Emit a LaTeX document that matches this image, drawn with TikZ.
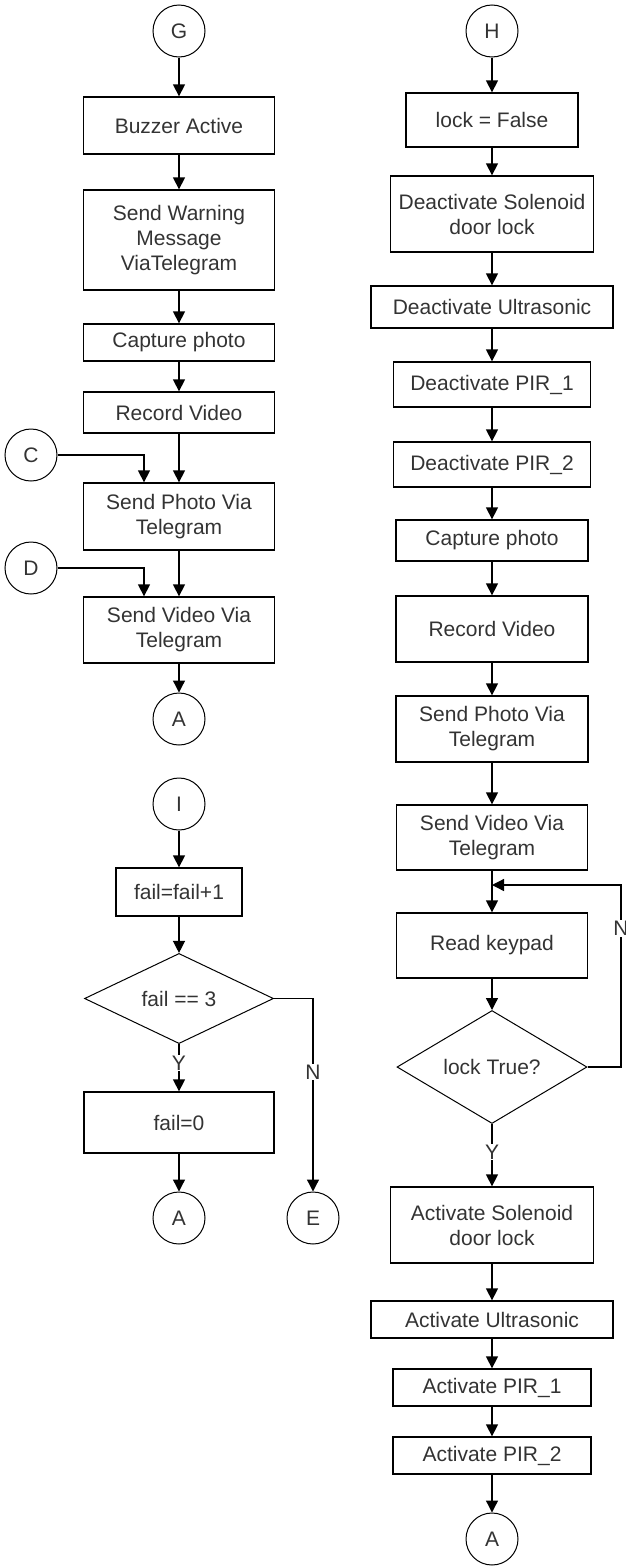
\documentclass[tikz,border=0pt]{standalone}
\usepackage{fontspec}
\setmainfont{Liberation Sans}
\usetikzlibrary{shapes.geometric,arrows.meta}
\begin{document}
\begin{tikzpicture}[x=1pt,y=-1pt]

\tikzstyle{proc}=[draw, rectangle, line width=1.3pt, inner sep=2pt, align=center, text=black!80, font=\fontsize{21}{25}\selectfont]
\tikzstyle{conn}=[draw, circle, line width=1pt, minimum size=52pt, inner sep=0pt, text=black!80, font=\fontsize{21}{25}\selectfont]
\tikzstyle{decide}=[draw, diamond, line width=1pt, inner sep=0pt, text=black!80, font=\fontsize{21}{25}\selectfont]
\tikzstyle{edge}=[-{Triangle[width=12pt,length=12pt]}, line width=1.3pt]
\tikzstyle{tag}=[fill=white, inner sep=1pt, text=black!80, font=\fontsize{21}{25}\selectfont]

\useasboundingbox (0,0) rectangle (626,1566);

\node[conn] (g) at (179,31) {G};
\node[proc, minimum width=191pt, minimum height=57pt] (buzzer) at (179,125.5) {Buzzer Active};
\node[proc, minimum width=191pt, minimum height=100pt] (warn) at (179,240) {Send Warning\\Message\\ViaTelegram};
\node[proc, minimum width=191pt, minimum height=37pt] (photo_l) at (179,342.5) {Capture photo};
\node[proc, minimum width=191pt, minimum height=41pt] (video_l) at (179,412.5) {Record Video};
\node[conn] (c) at (31,455) {C};
\node[proc, minimum width=191pt, minimum height=67pt] (send_photo_l) at (179,516.5) {Send Photo Via\\Telegram};
\node[conn] (d) at (31,568) {D};
\node[proc, minimum width=191pt, minimum height=66pt] (send_video_l) at (179,630) {Send Video Via\\Telegram};
\node[conn] (a_top) at (179,719) {A};

\node[conn] (i) at (179,804) {I};
\node[proc, minimum width=126pt, minimum height=48pt] (fail_inc) at (179,892) {fail=fail+1};
\node[decide, minimum width=189pt, minimum height=67pt] (fail_check) at (179,998.5) {fail == 3};
\node[proc, minimum width=190pt, minimum height=61pt] (fail_reset) at (179,1122.5) {fail=0};
\node[conn] (a_mid) at (179,1218) {A};
\node[conn] (e) at (313,1218) {E};

\node[conn] (h) at (492,31) {H};
\node[proc, minimum width=172pt, minimum height=54pt] (lock_false) at (492,120) {lock = False};
\node[proc, minimum width=203pt, minimum height=76pt] (sol_off) at (492,214) {Deactivate Solenoid\\door lock};
\node[proc, minimum width=242pt, minimum height=42pt] (us_off) at (492,307) {Deactivate Ultrasonic};
\node[proc, minimum width=197pt, minimum height=45pt] (pir1_off) at (492,384.5) {Deactivate PIR\_1};
\node[proc, minimum width=197pt, minimum height=45pt] (pir2_off) at (492,464.5) {Deactivate PIR\_2};
\node[proc, minimum width=192pt, minimum height=41pt] (photo_r) at (492,540.5) {Capture photo};
\node[proc, minimum width=192pt, minimum height=66pt] (video_r) at (492,629) {Record Video};
\node[proc, minimum width=192pt, minimum height=66pt] (send_photo_r) at (492,729) {Send Photo Via\\Telegram};
\node[proc, minimum width=191pt, minimum height=65pt] (send_video_r) at (492,837.5) {Send Video Via\\Telegram};
\coordinate (loop_in) at (492,885);
\coordinate (loop_corner) at (621,885);
\node[proc, minimum width=191pt, minimum height=65pt] (keypad) at (492,945.5) {Read keypad};
\node[decide, minimum width=190pt, minimum height=113pt] (lock_check) at (492,1067) {lock True?};
\node[proc, minimum width=203pt, minimum height=76pt] (sol_on) at (492,1225) {Activate Solenoid\\door lock};
\node[proc, minimum width=242pt, minimum height=37pt] (us_on) at (492,1319.5) {Activate Ultrasonic};
\node[proc, minimum width=198pt, minimum height=37pt] (pir1_on) at (492,1387.5) {Activate PIR\_1};
\node[proc, minimum width=198pt, minimum height=37pt] (pir2_on) at (492,1455.5) {Activate PIR\_2};
\node[conn] (a_bot) at (492,1539) {A};

\draw[edge] (g) -- (buzzer);
\draw[edge] (buzzer) -- (warn);
\draw[edge] (warn) -- (photo_l);
\draw[edge] (photo_l) -- (video_l);
\draw[edge] (video_l) -- (send_photo_l);
\draw[edge] (c) -| ([xshift=-35pt]send_photo_l.north);
\draw[edge] (send_photo_l) -- (send_video_l);
\draw[edge] (d) -| ([xshift=-35pt]send_video_l.north);
\draw[edge] (send_video_l) -- (a_top);

\draw[edge] (i) -- (fail_inc);
\draw[edge] (fail_inc) -- (fail_check);
\draw[edge] (fail_check) -- node[tag, pos=0.4] {Y} (fail_reset);
\draw[edge] (fail_check) -| node[tag, pos=0.69] {N} (e);
\draw[edge] (fail_reset) -- (a_mid);

\draw[edge] (h) -- (lock_false);
\draw[edge] (lock_false) -- (sol_off);
\draw[edge] (sol_off) -- (us_off);
\draw[edge] (us_off) -- (pir1_off);
\draw[edge] (pir1_off) -- (pir2_off);
\draw[edge] (pir2_off) -- (photo_r);
\draw[edge] (photo_r) -- (video_r);
\draw[edge] (video_r) -- (send_photo_r);
\draw[edge] (send_photo_r) -- (send_video_r);
\draw[edge] (send_video_r) -- (keypad);
\draw[edge] (keypad) -- (lock_check);
\draw[edge] (lock_check) -| node[tag, pos=0.88] {N} (loop_corner) -- (loop_in);
\draw[edge] (lock_check) -- node[tag, pos=0.45] {Y} (sol_on);
\draw[edge] (sol_on) -- (us_on);
\draw[edge] (us_on) -- (pir1_on);
\draw[edge] (pir1_on) -- (pir2_on);
\draw[edge] (pir2_on) -- (a_bot);

\end{tikzpicture}
\end{document}
